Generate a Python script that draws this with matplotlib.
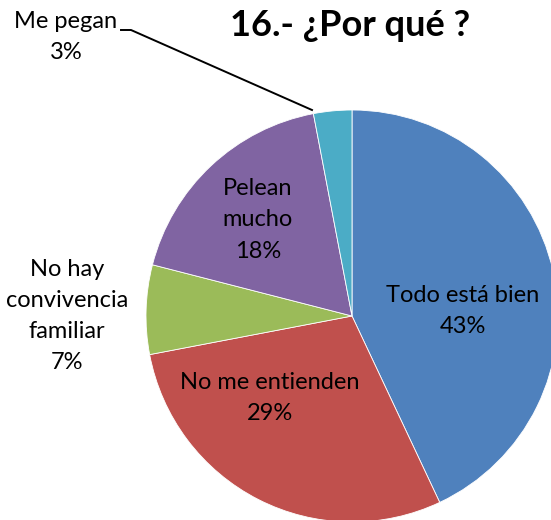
import matplotlib.pyplot as plt

categories = ["Todo está bien", "No me entienden", "No hay\nconvivencia\nfamiliar", "Pelean\nmucho", "Me pegan"]
values = [43, 29, 7, 18, 3]
colors = ["#4F81BD", "#C0504D", "#9BBB59", "#8064A2", "#4BACC6"]

W, H = 551, 520
plt.rcParams['font.family'] = ['Lato', 'DejaVu Sans']

fig = plt.figure(figsize=(W / 100, H / 100), dpi=100)
ax = fig.add_axes([0, 0, 1, 1])

cx, cy, r = 352, H - 316, 206
ax.pie(values, colors=colors, startangle=90, counterclock=False,
       center=(cx, cy), radius=r, frame=True,
       wedgeprops=dict(edgecolor='white', linewidth=0.6))
ax.set_xlim(0, W)
ax.set_ylim(0, H)
ax.set_aspect('equal')
ax.axis('off')

# label positions (image pixels)
label_pos = [(463, 311), (270, 398), (67, 316), (258, 220), (66, 37)]
for name, v, (x, y) in zip(categories, values, label_pos):
    ax.text(x, H - y, f"{name}\n{v}%", ha='center', va='center',
            fontsize=17, linespacing=1.6, color='black')

# leader line for the small slice
ax.plot([121, 131, 312], [H - 30, H - 30, H - 110], color='black', lw=1.4)

ax.text(350, H - 26, "16.- ¿Por qué ?", ha='center', va='center',
        fontsize=26, fontweight='bold')

fig.savefig("out.png", dpi=100)
